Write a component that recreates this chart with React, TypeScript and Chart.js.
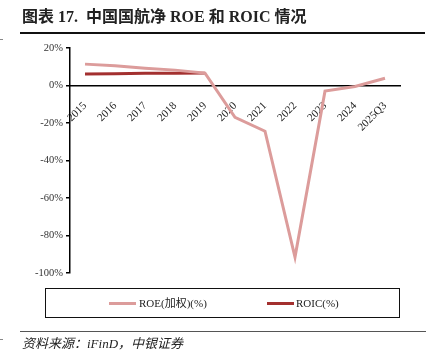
import React, { useEffect, useRef } from "react";
import { Chart, registerables } from "chart.js";

Chart.register(...registerables);

const categories = ["2015", "2016", "2017", "2018", "2019", "2020", "2021", "2022", "2023", "2024", "2025Q3"];
const roeValues = [11.4, 10.5, 9.2, 8.2, 6.6, -17.0, -24.4, -91.5, -3.0, -0.5, 3.9];
const roicValues = [6.1, 6.3, 6.5, 6.5, 6.6, null, null, null, null, null, null];
const yTicks = [20, 0, -20, -40, -60, -80, -100];
const roeLabel = "ROE(加权)(%)";
const roicLabel = "ROIC(%)";
const titleText = "图表 17.  中国国航净 ROE 和 ROIC 情况";
const sourceText = "资料来源：iFinD，中银证券";

const ROE_COLOR = "#DC9C9B";
const ROIC_COLOR = "#A3302F";
const SERIF = "'Liberation Serif', 'Times New Roman', 'Noto Sans CJK SC', serif";

export default function App() {
  const canvasRef = useRef<HTMLCanvasElement | null>(null);

  useEffect(() => {
    const canvas = canvasRef.current;
    if (!canvas) return;
    const chart = new Chart(canvas, {
      type: "line",
      data: {
        labels: categories,
        datasets: [
          {
            label: roeLabel,
            data: roeValues,
            borderColor: ROE_COLOR,
            backgroundColor: ROE_COLOR,
            borderWidth: 3,
            pointRadius: 0,
            tension: 0,
          },
          {
            label: roicLabel,
            data: roicValues as any,
            borderColor: ROIC_COLOR,
            backgroundColor: ROIC_COLOR,
            borderWidth: 3,
            pointRadius: 0,
            tension: 0,
          },
        ],
      },
      options: {
        responsive: false,
        animation: false,
        devicePixelRatio: 1,
        layout: { padding: { left: 0, top: 48, right: 41, bottom: 80 } },
        plugins: {
          legend: { display: false },
          tooltip: { enabled: false },
          title: { display: false },
        },
        scales: {
          x: {
            type: "category",
            position: { y: 0 } as any,
            offset: true,
            grid: { display: false },
            border: { display: true, color: "#000", width: 1.5 },
            ticks: {
              autoSkip: false,
              maxRotation: 45,
              minRotation: 45,
              padding: 6,
              color: "#222",
              font: { family: SERIF, size: 11 },
            },
          },
          y: {
            type: "linear",
            min: -100,
            max: 20,
            afterBuildTicks: (scale: any) => {
              scale.ticks = yTicks.map((v) => ({ value: v }));
            },
            afterFit: (scale: any) => {
              scale.width = 70;
            },
            grid: {
              display: true,
              drawOnChartArea: false,
              drawTicks: true,
              tickLength: 4,
              color: "#000",
              lineWidth: 1.5,
            },
            border: { display: true, color: "#000", width: 1.5 },
            ticks: {
              padding: 3,
              color: "#333",
              font: { family: SERIF, size: 10.5 },
              callback: (v: any) => `${v}%`,
            },
          },
        },
      },
    });
    return () => chart.destroy();
  }, []);

  return (
    <div style={{ position: "absolute", left: 0, top: 0, width: 441, height: 353, background: "#fff", overflow: "hidden" }}>
      <canvas ref={canvasRef} width={441} height={353} style={{ position: "absolute", left: 0, top: 0, width: 441, height: 353 }} />
      <div
        style={{
          position: "absolute",
          left: 22,
          top: 7,
          fontFamily: SERIF,
          fontWeight: "bold",
          fontSize: 16,
          lineHeight: "20px",
          color: "#222",
          whiteSpace: "pre",
        }}
      >
        {titleText}
      </div>
      <div style={{ position: "absolute", left: 20, top: 32, width: 405, height: 1.5, background: "#111" }} />
      <div style={{ position: "absolute", left: 0, top: 39, width: 3, height: 1, background: "#888" }} />
      <div
        style={{
          position: "absolute",
          left: 45,
          top: 288,
          width: 353,
          height: 28,
          border: "1.5px solid #111",
        }}
      >
        <div style={{ position: "absolute", left: 63, top: 13, width: 27, height: 3, background: ROE_COLOR }} />
        <div style={{ position: "absolute", left: 93, top: 6, fontFamily: SERIF, fontSize: 11, lineHeight: "16px", color: "#222", whiteSpace: "nowrap" }}>
          {roeLabel}
        </div>
        <div style={{ position: "absolute", left: 221, top: 13, width: 27, height: 3, background: ROIC_COLOR }} />
        <div style={{ position: "absolute", left: 250, top: 6, fontFamily: SERIF, fontSize: 11, lineHeight: "16px", color: "#222", whiteSpace: "nowrap" }}>
          {roicLabel}
        </div>
      </div>
      <div style={{ position: "absolute", left: 20, top: 331, width: 406, height: 1, background: "#555" }} />
      <div style={{ position: "absolute", left: 0, top: 339, width: 3, height: 1, background: "#888" }} />
      <div
        style={{
          position: "absolute",
          left: 22,
          top: 335,
          fontFamily: SERIF,
          fontStyle: "italic",
          fontSize: 13,
          lineHeight: "17px",
          color: "#222",
          whiteSpace: "nowrap",
        }}
      >
        {sourceText}
      </div>
    </div>
  );
}
